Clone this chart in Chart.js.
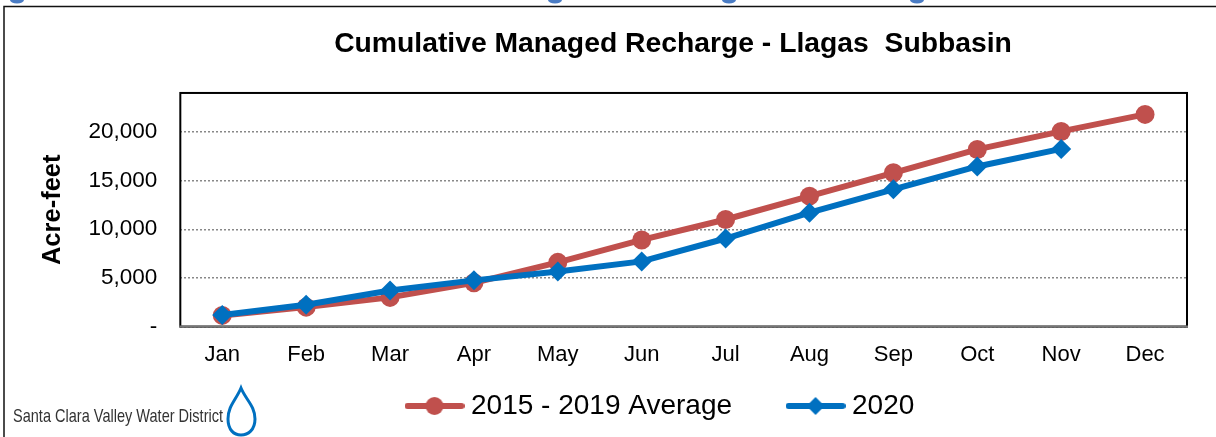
<!DOCTYPE html>
<html><head><meta charset="utf-8">
<style>html,body{margin:0;padding:0;background:#fff;overflow:hidden}#w{width:1216px;height:437px}</style>
<script src="https://cdn.jsdelivr.net/npm/chart.js@4"></script></head>
<body><div id="w"><canvas id="c" width="1216" height="437"></canvas></div>
<script>
const categories=["Jan","Feb","Mar","Apr","May","Jun","Jul","Aug","Sep","Oct","Nov","Dec"];
const avgValues=[1150,2000,3000,4500,6600,8900,11000,13400,15800,18200,20050,21800];
const y2020Values=[1200,2250,3700,4750,5650,6700,9050,11700,14100,16450,18250,null];
const yTickValues=[0,5000,10000,15000,20000];
const seriesNames=["2015 - 2019 Average","2020"];
const titleText="Cumulative Managed Recharge - Llagas  Subbasin";
const yTitle="Acre-feet";
const logoText="Santa Clara Valley Water District";
const RED="#C0504D",BLUE="#0070C0";
function legendIcon(color,kind){
  const c=document.createElement('canvas');c.width=60;c.height=24;
  const x=c.getContext('2d');x.strokeStyle=color;x.fillStyle=color;x.lineWidth=6;x.lineCap='round';
  x.beginPath();x.moveTo(3,12);x.lineTo(57,12);x.stroke();
  x.beginPath();
  if(kind==='circle'){x.arc(30,12,9,0,Math.PI*2);}
  else{x.moveTo(30,3);x.lineTo(39,12);x.lineTo(30,21);x.lineTo(21,12);x.closePath();}
  x.fill();return c;
}
const icons=[legendIcon(RED,'circle'),legendIcon(BLUE,'diamond')];
const deco={id:'deco',
  beforeLayout(chart){chart.legend.isHorizontal=()=>true;},
  afterLayout(chart){
    const l=chart.legend;l.left=351;l.right=1216;l.top=331;l.bottom=437;
    const t=chart.titleBlock;t.left=-10;t.right=1356;t.top=27;t.bottom=65;
  },
  afterDraw(chart){
    const g=chart.ctx,a=chart.chartArea;
    g.save();
    g.strokeStyle='#000';g.lineWidth=2;g.strokeRect(a.left,a.top,a.right-a.left,a.bottom-a.top);
    g.strokeStyle='#777';g.beginPath();g.moveTo(a.left-1,a.bottom);g.lineTo(a.right+1,a.bottom);g.stroke();
    g.strokeStyle='#111';g.lineWidth=1.5;
    g.beginPath();g.moveTo(4,437);g.lineTo(4,6.5);g.lineTo(1216,6.5);g.stroke();
    g.fillStyle='#333';g.font='19px "Liberation Sans"';g.textBaseline='middle';g.textAlign='left';
    g.fillText(logoText,13,417,210);
    g.strokeStyle=BLUE;g.lineWidth=3;
    g.beginPath();g.moveTo(241,388);g.bezierCurveTo(236,400,228,406,228,419);g.bezierCurveTo(228,430,234,435,241,435);
    g.bezierCurveTo(248,435,255,430,255,419);g.bezierCurveTo(255,406,246,400,241,388);g.closePath();g.stroke();
    g.fillStyle='#4A7CC4';
    [17,555,729,917].forEach(x=>{g.beginPath();g.ellipse(x,0,7,3.5,0,0,Math.PI*2);g.fill();});
    g.restore();
  }};
new Chart(document.getElementById('c'),{
  type:'line',
  data:{labels:categories,datasets:[
    {label:seriesNames[0],data:avgValues,borderColor:RED,backgroundColor:RED,borderWidth:6,pointStyle:'circle',pointRadius:9.5,pointBackgroundColor:RED,pointBorderColor:RED,pointBorderWidth:0,tension:0,order:2,clip:false},
    {label:seriesNames[1],data:y2020Values,borderColor:BLUE,backgroundColor:BLUE,borderWidth:6,pointStyle:'rectRot',pointRadius:10,pointBackgroundColor:BLUE,pointBorderColor:BLUE,pointBorderWidth:0,tension:0,order:1,clip:false}
  ]},
  options:{responsive:false,animation:false,devicePixelRatio:1,
    layout:{padding:{left:40,right:29,top:26,bottom:62}},
    plugins:{
      title:{display:true,text:titleText,color:'#000',font:{family:'"Liberation Sans"',size:28.3,weight:'bold'},padding:{top:0,bottom:33}},
      legend:{position:'chartArea',align:'start',
        labels:{color:'#000',font:{family:'"Liberation Sans"',size:28},usePointStyle:true,pointStyleWidth:45,padding:61,
          generateLabels(ch){return ch.data.datasets.map((d,i)=>({text:d.label,pointStyle:icons[i],fontColor:'#000',datasetIndex:i,lineWidth:0,strokeStyle:'transparent',fillStyle:'transparent'}));}}},
      tooltip:{enabled:false}
    },
    scales:{
      x:{offset:true,grid:{display:false},border:{display:false},
        ticks:{color:'#000',font:{family:'"Liberation Sans"',size:22},padding:7,maxRotation:0,autoSkip:false}},
      y:{min:0,max:24000,
        afterBuildTicks(ax){ax.ticks=yTickValues.map(v=>({value:v}));},
        grid:{color:'#888888',lineWidth:1.5,drawTicks:false},
        border:{display:false,dash:[2,2]},
        title:{display:true,text:yTitle,color:'#000',font:{family:'"Liberation Sans"',size:25.5,weight:'bold',lineHeight:1},padding:{top:0,bottom:0}},
        ticks:{color:'#000',font:{family:'"Liberation Sans"',size:22.5},padding:23,
          callback(v){return v===0?'-':v.toLocaleString('en-US');}}}
    }
  },
  plugins:[deco]
});
</script></body></html>
